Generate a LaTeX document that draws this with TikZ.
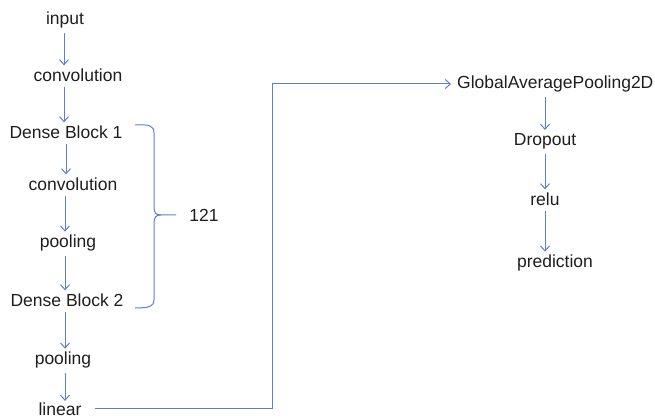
\documentclass[tikz,border=0pt]{standalone}
\usepackage{fontspec}
\setmainfont{Liberation Sans}
\usetikzlibrary{arrows.meta}
\definecolor{lineblue}{HTML}{5B7FD5}
\definecolor{txt}{HTML}{1E1E1E}
\tikzset{
  lbl/.style={text=txt,font=\fontsize{17.5}{21}\selectfont,inner sep=3pt},
  arr/.style={draw=lineblue,line width=1pt,-{Straight Barb[length=5pt,width=9pt]}},
  ln/.style={draw=lineblue,line width=1pt}
}
\begin{document}
\begin{tikzpicture}[x=1pt,y=-1pt]
\useasboundingbox (0,0) rectangle (655,419);
\node[lbl] (input) at (65,20) {input};
\node[lbl] (conv1) at (78,75) {convolution};
\node[lbl] (db1) at (66,132) {Dense Block 1};
\node[lbl] (conv2) at (73,184) {convolution};
\node[lbl] (pool1) at (68,243) {pooling};
\node[lbl] (db2) at (67,300) {Dense Block 2};
\node[lbl] (pool2) at (63,360) {pooling};
\node[lbl] (linear) at (60,409.5) {linear};
\node[lbl] (n121) at (204,215) {121};
\node[lbl,anchor=west] (gap) at (454,84) {GlobalAveragePooling2D};
\node[lbl] (drop) at (545,141) {Dropout};
\node[lbl] (relu) at (545,199) {relu};
\node[lbl] (pred) at (555,263) {prediction};
\coordinate (c1) at (64,0);
\coordinate (c2) at (66,0);
\coordinate (c3) at (65,0);
\coordinate (c4) at (545,0);
\coordinate (turn) at (272,0);
\draw[arr] ([yshift=-2pt]input.south -| c1) -- (conv1.north -| c1);
\draw[arr] ([yshift=-2pt]conv1.south -| c1) -- (db1.north -| c1);
\draw[arr] ([yshift=-2pt]db1.south -| c2) -- (conv2.north -| c2);
\draw[arr] ([yshift=-2pt]conv2.south -| c3) -- (pool1.north -| c3);
\draw[arr] ([yshift=-2pt]pool1.south -| c3) -- (db2.north -| c3);
\draw[arr] ([yshift=-2pt]db2.south -| c3) -- (pool2.north -| c3);
\draw[arr] ([yshift=-2pt]pool2.south -| c3) -- ([yshift=-1pt]linear.north -| c3);
\draw[arr] ([xshift=10pt,yshift=1pt]linear.east) -| (turn |- gap.west) -- ([xshift=-3pt]gap.west);
\draw[arr] ([yshift=-2pt]gap.south -| c4) -- (drop.north -| c4);
\draw[arr] ([yshift=-2pt]drop.south -| c4) -- (relu.north -| c4);
\draw[arr] ([yshift=-2pt]relu.south -| c4) -- (pred.north -| c4);
% brace
\coordinate (bt) at (135,125);
\coordinate (bb) at (135,308);
\coordinate (tip) at (176,215);
\draw[ln] (bt) .. controls (150,124) and (154,126) .. (154,133)
  -- (154,207) .. controls (154,213) and (156,215) .. (161,215) -- (tip);
\draw[ln] (161,215) .. controls (156,215) and (154,217) .. (154,223)
  -- (154,300) .. controls (154,306) and (150,308) .. (bb);
\end{tikzpicture}
\end{document}
